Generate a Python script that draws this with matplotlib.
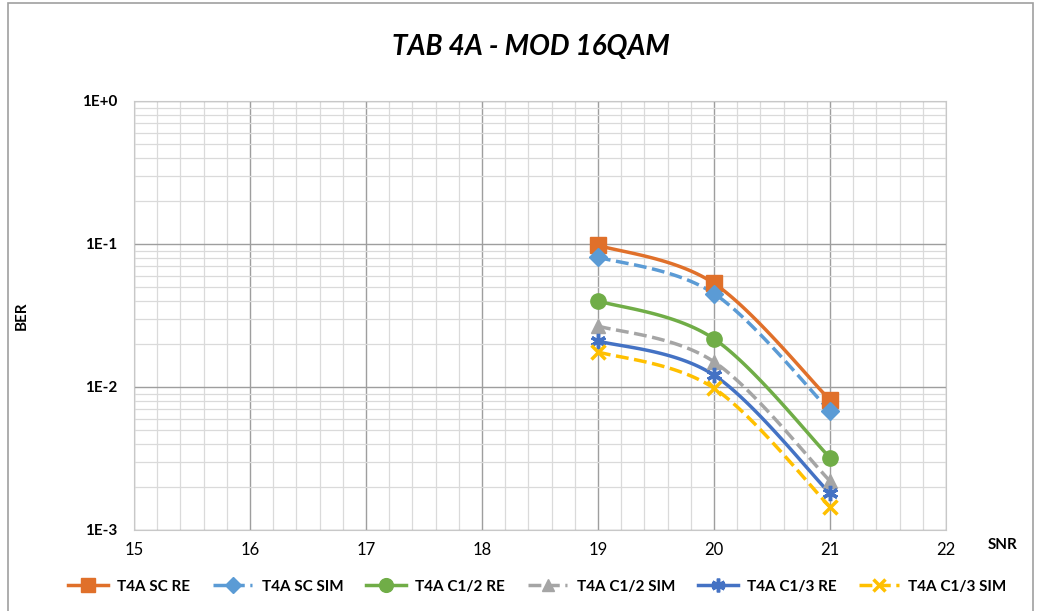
import numpy as np
import matplotlib.pyplot as plt
from matplotlib.patches import Rectangle
from matplotlib.ticker import FixedLocator, NullFormatter

plt.rcParams['font.family'] = ['Lato', 'DejaVu Sans']

# Data
snr = [19, 20, 21]
sc_re = [0.098, 0.053, 0.0081]
sc_sim = [0.081, 0.045, 0.0068]
c12_re = [0.040, 0.0217, 0.0032]
c12_sim = [0.0267, 0.015, 0.0022]
c13_re = [0.021, 0.0121, 0.0018]
c13_sim = [0.0176, 0.0098, 0.00145]

labels = ['T4A SC RE', 'T4A SC SIM', 'T4A C1/2 RE', 'T4A C1/2 SIM', 'T4A C1/3 RE', 'T4A C1/3 SIM']
series = [sc_re, sc_sim, c12_re, c12_sim, c13_re, c13_sim]
colors = ['#E0702A', '#5B9BD5', '#70AD47', '#A5A5A5', '#4472C4', '#FFC000']
markers = ['s', 'D', 'o', '^', (6, 2, 0), 'x']
styles = ['-', '--', '-', '--', '-', '--']
msizes = [11, 9, 11, 10, 11, 10]


def smooth(x, y, n=40):
    # Catmull-Rom style smoothing in log space, like Excel's smoothed line
    x = np.asarray(x, float)
    ly = np.log10(y)
    px = np.concatenate([[x[0]], x, [x[-1]]])
    py = np.concatenate([[ly[0]], ly, [ly[-1]]])
    xs, ys = [], []
    for i in range(1, len(px) - 2):
        p0, p1, p2, p3 = [np.array([px[j], py[j]]) for j in range(i - 1, i + 3)]
        c1 = p1 + (p2 - p0) / 6
        c2 = p2 - (p3 - p1) / 6
        t = np.linspace(0, 1, n)[:, None]
        b = (1 - t) ** 3 * p1 + 3 * (1 - t) ** 2 * t * c1 + 3 * (1 - t) * t ** 2 * c2 + t ** 3 * p2
        xs.extend(b[:, 0])
        ys.extend(b[:, 1])
    return np.array(xs), 10 ** np.array(ys)


fig = plt.figure(figsize=(10.43, 6.11), dpi=100)
fig.patches.append(Rectangle((0.008, -0.05), 0.982, 1.045, transform=fig.transFigure,
                             fill=False, edgecolor='#A0A0A0', linewidth=1.2))
ax = fig.add_axes([0.1285, 0.1326, 0.7785, 0.7021])

for y, lab, c, m, ls, ms in zip(series, labels, colors, markers, styles, msizes):
    sx, sy = smooth(snr, y)
    ax.plot(sx, sy, color=c, linestyle=ls, linewidth=2.5, zorder=3)
    ax.plot(snr, y, linestyle='none', marker=m, color=c, markersize=ms,
            markeredgewidth=2.5 if m in ('x', (6, 2, 0)) else 1, zorder=4)
    ax.plot([], [], color=c, linestyle=ls, linewidth=2.5, marker=m, markersize=ms * 0.9,
            markeredgewidth=2.5 if m in ('x', (6, 2, 0)) else 1, label=lab)

ax.set_yscale('log')
ax.set_xlim(15, 22)
ax.set_ylim(1e-3, 1)
ax.set_xticks(range(15, 23))
ax.xaxis.set_minor_locator(FixedLocator(np.arange(15, 22.01, 0.2)))
ax.set_yticks([1e-3, 1e-2, 1e-1, 1])
ax.set_yticklabels(['1E-3', '1E-2', '1E-1', '1E+0'], fontweight='bold')
ax.yaxis.set_minor_formatter(NullFormatter())
ax.tick_params(which='both', length=0, labelsize=11)
ax.tick_params(axis='y', pad=12)
ax.tick_params(axis='x', pad=9, labelsize=12)

ax.grid(which='major', color='#9E9E9E', linewidth=1.0)
ax.grid(which='minor', color='#DADADA', linewidth=0.9)
ax.set_axisbelow(True)
for s in ax.spines.values():
    s.set_color('#C8C8C8')

ax.set_ylabel('BER', fontsize=11, fontweight='bold', labelpad=38)
ax.text(1.07, -0.035, 'SNR', transform=ax.transAxes, fontsize=11, fontweight='bold',
        ha='center', va='center')
fig.text(0.509, 0.923, 'TAB 4A - MOD 16QAM', fontsize=20, fontweight='bold',
         fontstyle='italic', ha='center', va='center')

fig.legend(loc='center', bbox_to_anchor=(0.515, 0.04), ncol=6, frameon=False,
           prop={'size': 11, 'weight': 'bold'}, handlelength=2.6,
           columnspacing=1.5, handletextpad=0.6)

fig.savefig('out.png', dpi=100)
